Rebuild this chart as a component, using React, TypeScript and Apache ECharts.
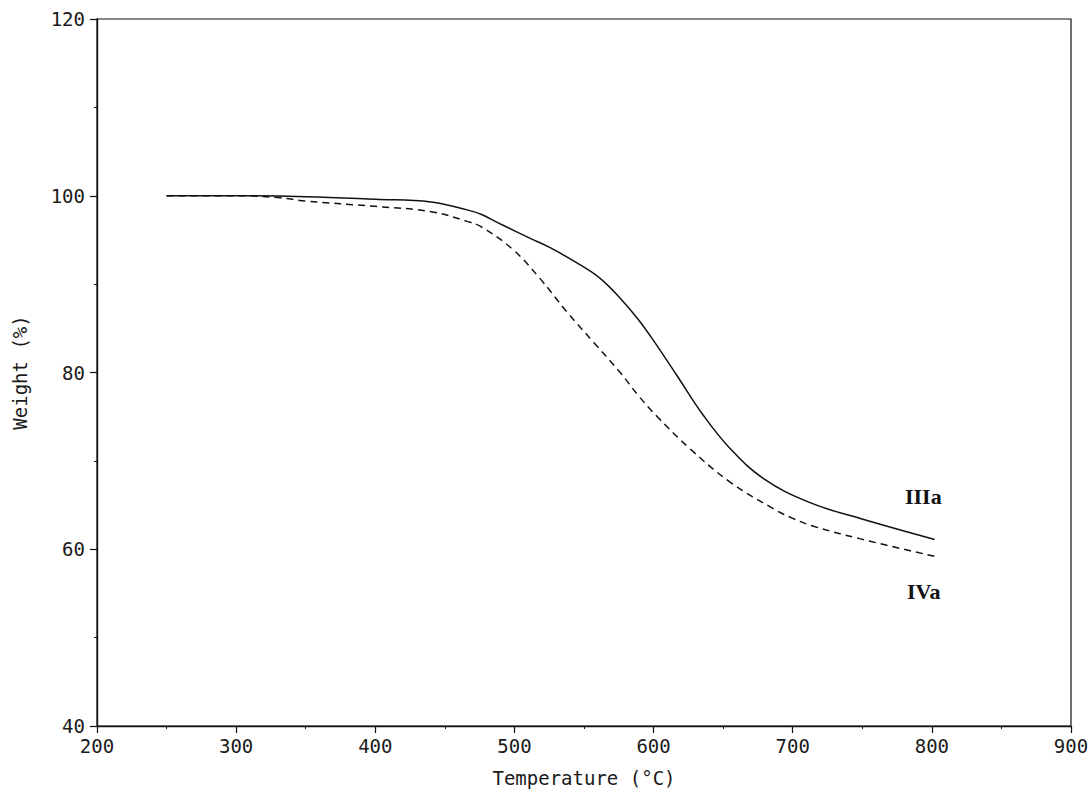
import React, { useEffect, useRef } from "react";
import * as echarts from "echarts";

const tempIIIa = [250, 300, 350, 400, 440, 466, 476, 490, 511, 526, 547, 562, 576, 589, 600, 617, 636, 655, 679, 712, 748, 802];
const weightIIIa = [100, 100, 99.9, 99.6, 99.3, 98.4, 97.9, 96.8, 95.2, 94.1, 92.2, 90.6, 88.4, 86.0, 83.6, 79.6, 75.1, 71.4, 68.0, 65.3, 63.5, 61.1];

const tempIVa = [250, 300, 330, 350, 400, 440, 466, 476, 499, 518, 538, 557, 576, 589, 602, 626, 655, 686, 700, 715, 748, 802];
const weightIVa = [100, 100, 99.8, 99.4, 98.8, 98.2, 97.1, 96.5, 93.9, 90.7, 86.8, 83.4, 80.0, 77.4, 75.1, 71.4, 67.6, 64.6, 63.5, 62.6, 61.2, 59.2];

const seriesNames = ["IIIa", "IVa"];
const xTitle = "Temperature (°C)";
const yTitle = "Weight (%)";

const zip = (xs: number[], ys: number[]) => xs.map((x, i) => [x, ys[i]]);

const monoFont = "'DejaVu Sans Mono', monospace";

export default function App() {
  const ref = useRef<HTMLDivElement>(null);
  useEffect(() => {
    if (!ref.current) return;
    const chart = echarts.init(ref.current, undefined, { renderer: "svg" });
    chart.setOption({
      animation: false,
      backgroundColor: "#fff",
      grid: {
        left: 97,
        right: 21,
        top: 19,
        bottom: 64,
        show: true,
        borderColor: "#111",
        borderWidth: 1.2,
      },
      xAxis: {
        type: "value",
        min: 200,
        max: 900,
        interval: 100,
        name: xTitle,
        nameLocation: "middle",
        nameGap: 42,
        nameTextStyle: { fontFamily: monoFont, fontSize: 19, color: "#1a1a1a" },
        axisLine: { show: true, lineStyle: { color: "#111", width: 1.4 } },
        axisTick: { show: true, length: 7, lineStyle: { color: "#111", width: 1.2 } },
        minorTick: { show: true, splitNumber: 2, length: 3, lineStyle: { color: "#111" } },
        axisLabel: { fontFamily: monoFont, fontSize: 19, color: "#1a1a1a", margin: 10 },
        splitLine: { show: false },
      },
      yAxis: {
        type: "value",
        min: 40,
        max: 120,
        interval: 20,
        name: yTitle,
        nameLocation: "middle",
        nameGap: 68,
        nameRotate: 90,
        nameTextStyle: { fontFamily: monoFont, fontSize: 19, color: "#1a1a1a" },
        axisLine: { show: true, lineStyle: { color: "#111", width: 1.4 } },
        axisTick: { show: true, length: 7, lineStyle: { color: "#111", width: 1.2 } },
        minorTick: { show: true, splitNumber: 2, length: 3, lineStyle: { color: "#111" } },
        axisLabel: { fontFamily: monoFont, fontSize: 19, color: "#1a1a1a", margin: 12 },
        splitLine: { show: false },
      },
      series: [
        {
          name: seriesNames[0],
          type: "line",
          data: zip(tempIIIa, weightIIIa),
          smooth: 0.4,
          showSymbol: false,
          lineStyle: { color: "#111", width: 1.5, type: "solid" },
        },
        {
          name: seriesNames[1],
          type: "line",
          data: zip(tempIVa, weightIVa),
          smooth: 0.4,
          showSymbol: false,
          lineStyle: { color: "#111", width: 1.5, type: [7, 5] },
        },
      ],
      graphic: [
        {
          type: "text",
          left: 905,
          top: 485,
          style: {
            text: seriesNames[0],
            fontFamily: "'Liberation Serif', serif",
            fontSize: 22,
            fontWeight: "bold",
            fill: "#111",
          },
        },
        {
          type: "text",
          left: 907,
          top: 580,
          style: {
            text: seriesNames[1],
            fontFamily: "'Liberation Serif', serif",
            fontSize: 22,
            fontWeight: "bold",
            fill: "#111",
          },
        },
      ],
    });
    return () => chart.dispose();
  }, []);
  return <div ref={ref} style={{ width: 1092, height: 792, position: "absolute", left: 0, top: 0 }} />;
}
